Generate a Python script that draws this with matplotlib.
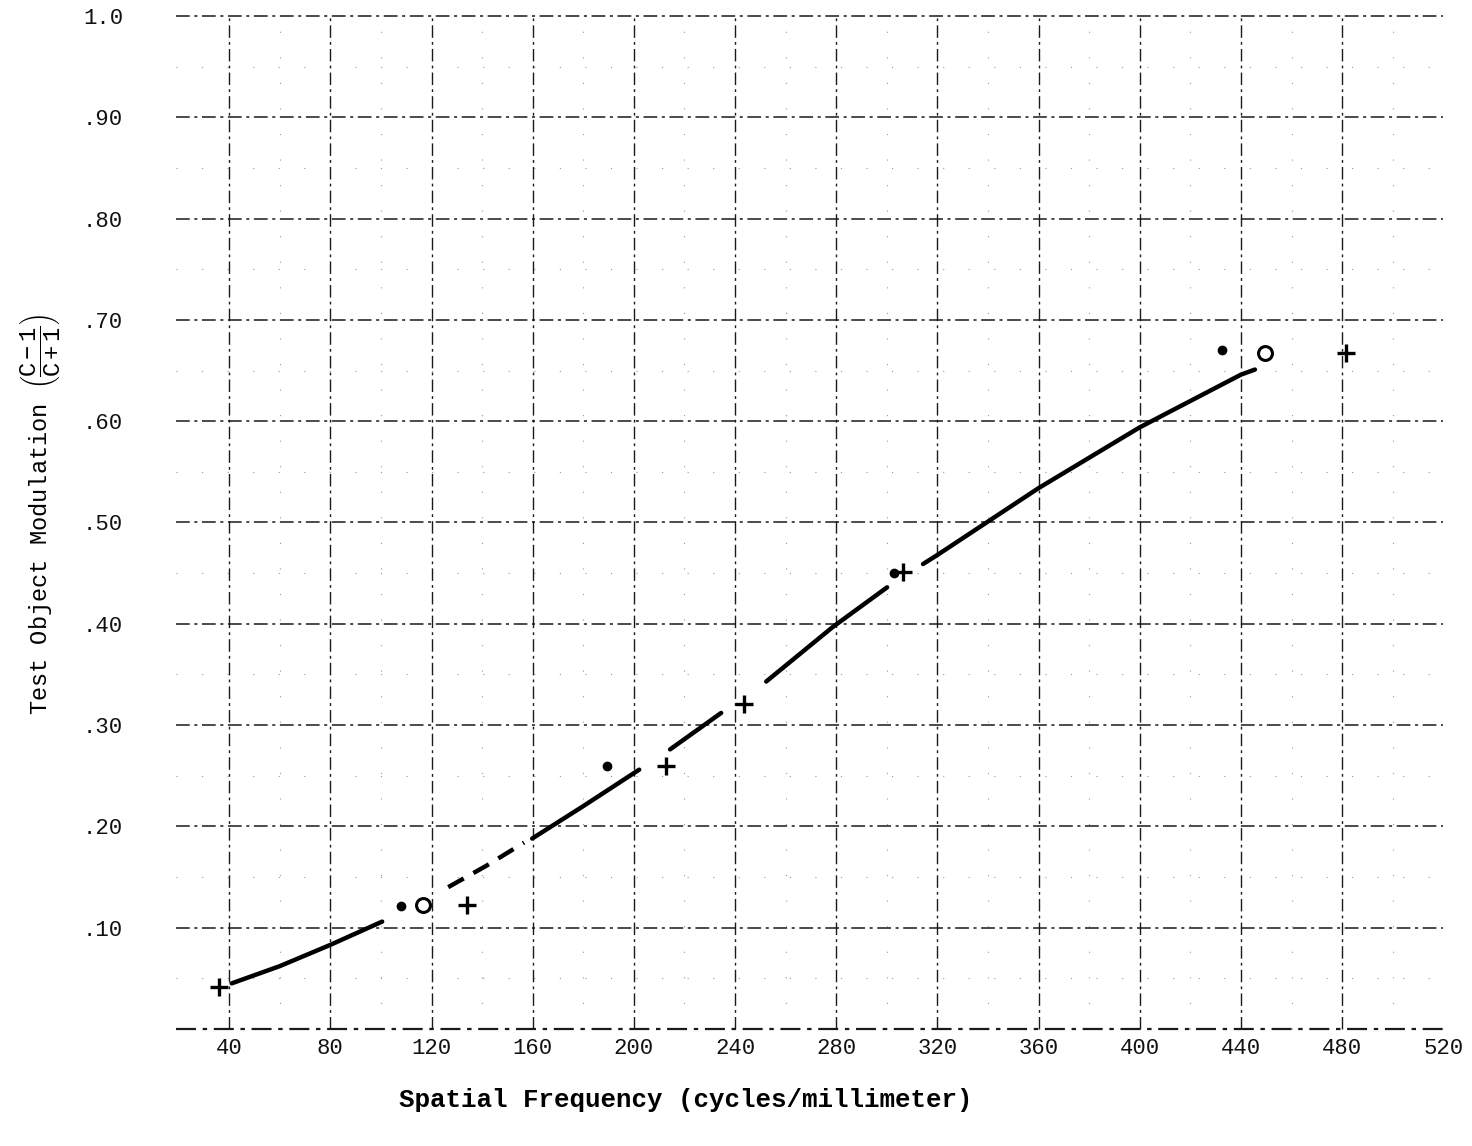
import matplotlib
matplotlib.use("Agg")
import matplotlib.pyplot as plt
import numpy as np

# ---- data ----
x_ticks = [40, 80, 120, 160, 200, 240, 280, 320, 360, 400, 440, 480, 520]
x_tick_labels = ["40", "80", "120", "160", "200", "240", "280", "320", "360", "400", "440", "480", "520"]
y_ticks = [0.1, 0.2, 0.3, 0.4, 0.5, 0.6, 0.7, 0.8, 0.9, 1.0]
y_tick_labels = [".10", ".20", ".30", ".40", ".50", ".60", ".70", ".80", ".90", "1.0"]

dot_x = [108.0, 189.4, 303.0, 432.5]
dot_y = [0.121, 0.260, 0.450, 0.670]

circle_x = [116.7, 449.5]
circle_y = [0.122, 0.667]

plus_x = [36.0, 134.1, 212.7, 243.6, 306.4, 481.5]
plus_y = [0.041, 0.122, 0.260, 0.321, 0.451, 0.667]

# fitted curve, drawn in broken pieces as in the original
seg_a_x = [41.0, 60.0, 80.0, 100.5]
seg_a_y = [0.045, 0.062, 0.083, 0.106]
seg_b_x = [126.6, 141.6, 156.6]          # dashed piece
seg_b_y = [0.140, 0.161, 0.184]
seg_c_x = [159.8, 180.0, 202.1]
seg_c_y = [0.188, 0.220, 0.256]
seg_d_x = [214.3, 234.5]
seg_d_y = [0.276, 0.312]
seg_e_x = [252.3, 278.7, 300.1]
seg_e_y = [0.343, 0.397, 0.436]
seg_f_x = [314.3, 320.0, 360.0, 400.0, 440.0, 445.5]
seg_f_y = [0.459, 0.468, 0.534, 0.594, 0.646, 0.651]

# ---- figure ----
plt.rcParams["font.family"] = ["Liberation Mono", "DejaVu Sans Mono"]
plt.rcParams["mathtext.fontset"] = "custom"
plt.rcParams["mathtext.rm"] = "Liberation Mono"
plt.rcParams["mathtext.it"] = "Liberation Mono"

fig = plt.figure(figsize=(14.72, 11.46), dpi=100)
W, H = 1472, 1146
left, right = 176 / W, 1451 / W
bottom, top = 1 - 1032 / H, 1 - 13 / H
ax = fig.add_axes([left, bottom, right - left, top - bottom])
ax.set_xlim(19, 523)
ax.set_ylim(-0.003, 1.003)

for s in ax.spines.values():
    s.set_visible(False)

grid_ls = (0, (9, 3, 2, 3))
for xv in x_ticks[:-1]:
    ax.plot([xv, xv], [0, 1.0], color="#1a1a1a", lw=1.0, ls=grid_ls, zorder=1)
for yv in [0.0] + y_ticks:
    ax.plot([19, 520], [yv, yv], color="#1a1a1a", lw=1.1 if yv > 0 else 1.6, ls=grid_ls, zorder=1)
# faint minor grid
for xv in np.arange(60, 521, 40):
    ax.plot([xv, xv], [0, 1.0], color="#999999", lw=0.8, ls=(0, (1, 22)), zorder=0)
for yv in np.arange(0.05, 1.0, 0.1):
    ax.plot([19, 520], [yv, yv], color="#999999", lw=0.8, ls=(0, (1, 22)), zorder=0)

curve_kw = dict(color="black", lw=3.2, solid_capstyle="round", zorder=3)
ax.plot(seg_a_x, seg_a_y, **curve_kw)
ax.plot(seg_b_x, seg_b_y, color="black", lw=3.2, ls=(0, (4, 2.5)), zorder=3)
ax.plot(seg_c_x, seg_c_y, **curve_kw)
ax.plot(seg_d_x, seg_d_y, **curve_kw)
ax.plot(seg_e_x, seg_e_y, **curve_kw)
ax.plot(seg_f_x, seg_f_y, **curve_kw)

ax.plot(dot_x, dot_y, ls="none", marker="o", ms=6, color="black", zorder=4)
ax.plot(circle_x, circle_y, ls="none", marker="o", ms=10, mfc="white", mec="black", mew=2.2, zorder=4)
ax.plot(plus_x, plus_y, ls="none", marker="+", ms=13, mew=2.4, color="black", zorder=4)

ax.set_xticks(x_ticks)
ax.set_xticklabels(x_tick_labels, fontsize=16)
ax.set_yticks(y_ticks)
ax.set_yticklabels(y_tick_labels, fontsize=16)
ax.tick_params(axis="both", length=0, colors="#111111")
ax.tick_params(axis="x", pad=4)
ax.tick_params(axis="y", pad=38)

fig.text(686 / W, 1 - 1100 / H, "Spatial Frequency (cycles/millimeter)", fontsize=18.6,
         fontweight="bold", ha="center", va="center")
fig.text(40 / W, 1 - 515 / H, r"Test Object Modulation $\left(\dfrac{C-1}{C+1}\right)$",
         fontsize=17, rotation=90, ha="center", va="center")

fig.savefig("out.png", dpi=100, facecolor="white")
